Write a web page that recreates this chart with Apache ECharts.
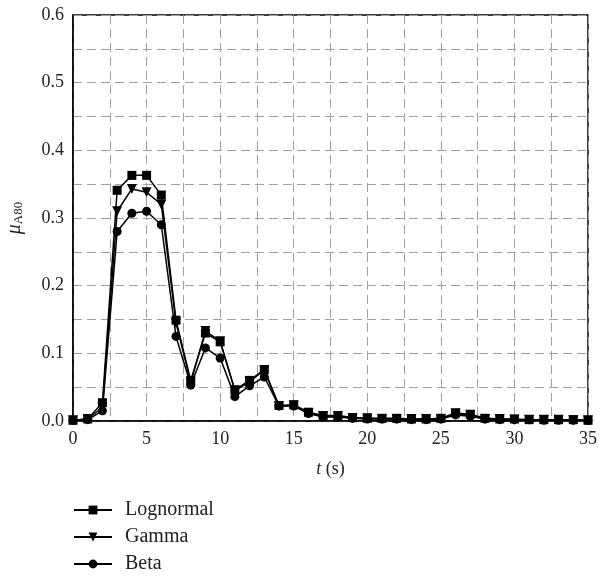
<!DOCTYPE html>
<html><head><meta charset="utf-8">
<script src="https://cdn.jsdelivr.net/npm/echarts@6/dist/echarts.min.js"></script>
<style>html,body{margin:0;padding:0;background:#fff}#c{width:600px;height:578px}</style>
</head><body><div id="c"></div>
<script>
const t = [];
for (let i = 0; i <= 35; i++) t.push(i);
const lognormal = [0.001,0.003,0.027,0.341,0.363,0.363,0.334,0.149,0.060,0.130,0.117,0.046,0.060,0.076,0.023,0.024,0.013,0.008,0.008,0.005,0.004,0.004,0.004,0.003,0.003,0.004,0.012,0.010,0.004,0.003,0.003,0.002,0.002,0.002,0.002,0.001];
const gamma =     [0.001,0.003,0.020,0.310,0.343,0.338,0.320,0.145,0.057,0.133,0.118,0.045,0.058,0.075,0.022,0.023,0.012,0.007,0.007,0.004,0.004,0.003,0.003,0.003,0.003,0.003,0.011,0.009,0.003,0.003,0.002,0.002,0.002,0.002,0.001,0.001];
const beta =      [0.001,0.002,0.015,0.280,0.307,0.310,0.290,0.125,0.053,0.108,0.093,0.036,0.052,0.065,0.022,0.022,0.011,0.006,0.006,0.004,0.003,0.003,0.003,0.002,0.002,0.003,0.009,0.007,0.003,0.002,0.002,0.002,0.001,0.001,0.001,0.001];
const xTickLabels = ['0','5','10','15','20','25','30','35'];
const yTickLabels = ['0.0','0.1','0.2','0.3','0.4','0.5','0.6'];

const font = '"Liberation Serif", "DejaVu Serif", serif';
const chart = echarts.init(document.getElementById('c'));
function mk(name, data, symbol, size, rot) {
  return {
    name, type: 'line', data: t.map((x, i) => [x, data[i]]),
    symbol, symbolSize: size, symbolRotate: rot || 0,
    lineStyle: { color: '#000', width: 1.5 },
    itemStyle: { color: '#000' },
    animation: false
  };
}
chart.setOption({
  animation: false,
  grid: { left: 73, top: 15, width: 515, height: 406, show: true, borderColor: '#000', borderWidth: 1.5,
          containLabel: false, outerBoundsMode: 'none' },
  xAxis: {
    type: 'value', min: 0, max: 35, interval: 2.5,
    axisLine: { show: true, lineStyle: { color: '#000', width: 1.5 } },
    axisTick: { show: false },
    axisLabel: { fontFamily: font, fontSize: 18, color: '#222', margin: 9,
      formatter: v => (v % 5 === 0 ? xTickLabels[v / 5] : '') },
    splitLine: { show: true, lineStyle: { color: '#a0a0a0', type: [9, 5], width: 1 } },
    name: '{i|t} (s)', nameLocation: 'middle', nameGap: 39,
    nameTextStyle: { fontFamily: font, fontSize: 18, color: '#222',
      rich: { i: { fontFamily: font, fontStyle: 'italic', fontSize: 18, color: '#222' } } }
  },
  yAxis: {
    type: 'value', min: 0, max: 0.6, interval: 0.05,
    axisLine: { show: true, lineStyle: { color: '#000', width: 1.5 } },
    axisTick: { show: false },
    axisLabel: { fontFamily: font, fontSize: 18, color: '#222', margin: 9,
      formatter: v => { const k = Math.round(v * 20); return k % 2 === 0 ? yTickLabels[k / 2] : ''; } },
    splitLine: { show: true, lineStyle: { color: '#a0a0a0', type: [9, 5], width: 1 } },
    name: '{m|μ}{s|A80}', nameLocation: 'middle', nameGap: 48, nameRotate: 90,
    nameTextStyle: { fontFamily: font, fontSize: 18, color: '#222',
      rich: { m: { fontFamily: font, fontStyle: 'italic', fontSize: 20, color: '#222' },
              s: { fontFamily: font, fontSize: 13, color: '#222', verticalAlign: 'bottom', padding: [7, 0, 0, 0] } } }
  },
  legend: {
    orient: 'vertical', left: 68, top: 495, height: 83, itemWidth: 38, itemHeight: 11, itemGap: 7,
    textStyle: { fontFamily: font, fontSize: 20, color: '#222', lineHeight: 20, padding: [0, 0, 0, 8] },
    data: ['Lognormal', 'Gamma', 'Beta']
  },
  series: [
    mk('Lognormal', lognormal, 'rect', 9),
    mk('Gamma', gamma, 'triangle', 10, 180),
    mk('Beta', beta, 'circle', 9)
  ]
});
</script></body></html>
